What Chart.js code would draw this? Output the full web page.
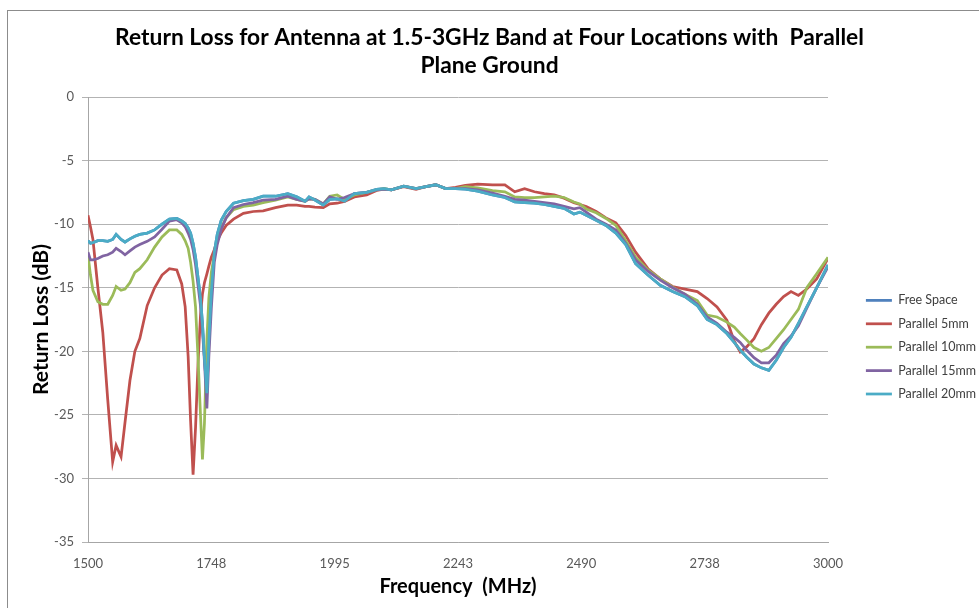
<!DOCTYPE html>
<html>
<head>
<meta charset="utf-8">
<title>Return Loss</title>
<script src="https://cdn.jsdelivr.net/npm/chart.js@4/dist/chart.umd.min.js"></script>
<style>
  body { margin: 0; background: #fff; }
  canvas { display: block; }
</style>
</head>
<body>
<canvas id="myReturnLossChart" width="979" height="608"></canvas>
<script>
// Frequency (MHz) sample points
const freq = [1500,1505,1510,1520,1530,1540,1550,1557,1567,1575,
  1585,1595,1605,1620,1635,1650,1665,1680,1690,1697,
  1703,1708,1713,1718,1723,1728,1732,1736,1741,1745,
  1750,1756,1762,1770,1780,1795,1815,1835,1855,1880,
  1905,1923,1940,1948,1960,1977,1990,2005,2020,2040,
  2065,2085,2100,2115,2140,2165,2185,2205,2225,2245,
  2265,2290,2320,2345,2365,2385,2405,2425,2445,2465,
  2485,2497,2510,2530,2550,2570,2590,2610,2635,2660,
  2685,2710,2735,2755,2775,2795,2810,2822,2835,2850,
  2865,2880,2895,2910,2925,2940,2957,2977,3000];

// x tick labels as printed on the original axis
const xTickLabels = ["1500", "1748", "1995", "2243", "2490", "2738", "3000"];

// Return loss (dB)
const freeSpace = [-11.3,-11.5,-11.45,-11.3,-11.3,-11.35,-11.2,-10.8,-11.2,-11.4,
  -11.15,-10.95,-10.8,-10.7,-10.45,-10.0,-9.6,-9.55,-9.75,-9.95,
  -10.3,-10.7,-11.5,-12.6,-14.2,-15.8,-17.8,-20.5,-23.3,-19.1,
  -15.4,-12.2,-10.8,-9.7,-9.0,-8.35,-8.15,-8.05,-7.8,-7.8,
  -7.6,-7.85,-8.2,-7.85,-8.1,-8.5,-8.05,-8.0,-8.2,-7.6,
  -7.5,-7.26,-7.2,-7.3,-7.0,-7.2,-7.05,-6.9,-7.2,-7.2,
  -7.25,-7.4,-7.7,-7.9,-8.25,-8.3,-8.35,-8.45,-8.6,-8.75,
  -9.2,-9.05,-9.3,-9.7,-10.1,-10.7,-11.6,-13.1,-14.0,-14.8,
  -15.3,-15.7,-16.4,-17.5,-17.9,-18.6,-19.3,-19.9,-20.45,-21.0,
  -21.3,-21.5,-20.7,-19.7,-18.9,-17.8,-16.5,-15.0,-13.2];

const parallel5 = [-9.3,-10.2,-11.2,-15.0,-18.5,-23.8,-28.7,-27.4,-28.3,-25.6,
  -22.3,-20.0,-19.0,-16.4,-15.0,-14.0,-13.5,-13.6,-14.7,-16.5,
  -20.4,-25.5,-29.7,-26.0,-21.0,-17.2,-15.5,-14.6,-13.9,-13.3,
  -12.6,-12.0,-11.3,-10.7,-10.1,-9.6,-9.15,-9.0,-8.95,-8.7,
  -8.5,-8.5,-8.6,-8.6,-8.65,-8.7,-8.4,-8.35,-8.2,-7.85,
  -7.7,-7.35,-7.25,-7.3,-7.05,-7.25,-7.05,-6.9,-7.2,-7.1,
  -6.95,-6.85,-6.9,-6.9,-7.45,-7.2,-7.45,-7.6,-7.7,-7.95,
  -8.3,-8.45,-8.6,-9.0,-9.5,-9.9,-10.9,-12.2,-13.5,-14.3,
  -14.9,-15.1,-15.3,-15.85,-16.5,-17.55,-19.2,-20.05,-19.65,-19.0,
  -17.9,-17.0,-16.3,-15.7,-15.3,-15.6,-15.1,-14.3,-12.7];

const parallel10 = [-12.4,-14.0,-15.2,-16.1,-16.3,-16.3,-15.6,-14.9,-15.2,-15.1,
  -14.6,-13.8,-13.5,-12.8,-11.8,-11.0,-10.45,-10.45,-10.8,-11.3,
  -11.9,-13.0,-14.5,-16.5,-20.5,-25.0,-28.5,-25.7,-19.1,-15.8,
  -13.8,-12.4,-11.3,-10.3,-9.5,-8.85,-8.6,-8.5,-8.3,-8.1,
  -7.85,-8.05,-8.2,-8.0,-8.05,-8.4,-7.8,-7.7,-8.05,-7.7,
  -7.5,-7.3,-7.2,-7.3,-7.0,-7.2,-7.05,-6.9,-7.2,-7.2,
  -7.05,-7.15,-7.35,-7.45,-7.85,-7.9,-7.9,-7.85,-7.8,-7.9,
  -8.25,-8.4,-8.8,-9.1,-9.55,-10.1,-11.3,-12.6,-13.6,-14.3,
  -14.95,-15.5,-16.0,-17.15,-17.3,-17.7,-18.1,-18.6,-19.1,-19.7,
  -20.0,-19.7,-19.0,-18.3,-17.5,-16.7,-15.0,-13.9,-12.6];

const parallel15 = [-12.2,-12.8,-12.8,-12.7,-12.5,-12.4,-12.2,-11.9,-12.15,-12.4,
  -12.1,-11.8,-11.6,-11.35,-11.0,-10.4,-9.75,-9.65,-9.9,-10.2,
  -10.7,-11.2,-12.0,-13.2,-14.8,-16.4,-18.3,-20.8,-24.5,-20.4,
  -16.6,-13.0,-11.6,-10.4,-9.5,-8.7,-8.45,-8.3,-8.1,-8.05,
  -7.8,-8.05,-8.2,-8.0,-8.05,-8.4,-7.85,-8.05,-7.9,-7.6,
  -7.5,-7.3,-7.25,-7.3,-7.0,-7.2,-7.05,-6.9,-7.2,-7.2,
  -7.2,-7.3,-7.55,-7.8,-8.05,-8.1,-8.2,-8.3,-8.4,-8.6,
  -8.8,-8.7,-9.05,-9.6,-10.0,-10.45,-11.5,-12.8,-13.7,-14.4,
  -15.0,-15.5,-16.3,-17.3,-17.8,-18.5,-18.9,-19.3,-19.9,-20.5,
  -20.9,-20.9,-20.3,-19.4,-18.8,-18.0,-16.6,-15.0,-13.35];

const parallel20 = [-11.3,-11.5,-11.45,-11.3,-11.3,-11.35,-11.2,-10.8,-11.2,-11.4,
  -11.15,-10.95,-10.8,-10.7,-10.45,-10.0,-9.6,-9.55,-9.75,-9.95,
  -10.3,-10.7,-11.5,-12.6,-14.2,-15.8,-17.8,-20.5,-23.3,-19.1,
  -15.4,-12.2,-10.8,-9.7,-9.0,-8.35,-8.15,-8.05,-7.8,-7.8,
  -7.6,-7.85,-8.2,-7.85,-8.1,-8.5,-8.05,-8.0,-8.2,-7.6,
  -7.5,-7.26,-7.2,-7.3,-7.0,-7.2,-7.05,-6.9,-7.2,-7.2,
  -7.25,-7.4,-7.7,-7.9,-8.25,-8.3,-8.35,-8.45,-8.6,-8.75,
  -9.2,-9.05,-9.3,-9.7,-10.1,-10.7,-11.6,-13.1,-14.0,-14.8,
  -15.3,-15.7,-16.4,-17.5,-17.9,-18.6,-19.3,-19.9,-20.45,-21.0,
  -21.3,-21.5,-20.7,-19.7,-18.9,-17.8,-16.5,-15.0,-13.2];

const seriesNames = ["Free Space", "Parallel 5mm", "Parallel 10mm", "Parallel 15mm", "Parallel 20mm"];
const seriesValues = [freeSpace, parallel5, parallel10, parallel15, parallel20];
const seriesColors = ["#4F81BD", "#C0504D", "#9BBB59", "#8064A2", "#4BACC6"];

Chart.defaults.font.family = "Lato, 'Open Sans', sans-serif";

// white page + thin grey frame like the Excel chart area
const chartFrame = {
  id: "chartFrame",
  beforeDraw(chart) {
    const ctx = chart.ctx;
    ctx.save();
    ctx.fillStyle = "#ffffff";
    ctx.fillRect(0, 0, chart.width, chart.height);
    ctx.strokeStyle = "#8c8c8c";
    ctx.lineWidth = 1;
    ctx.strokeRect(7.5, 10.5, chart.width + 20, chart.height + 20);
    ctx.restore();
  },
};

const ctx = document.getElementById("myReturnLossChart");

new Chart(ctx, {
  type: "line",
  data: {
    datasets: seriesNames.map((name, i) => ({
      label: name,
      data: freq.map((f, k) => ({ x: f, y: seriesValues[i][k] })),
      borderColor: seriesColors[i],
      backgroundColor: seriesColors[i],
      borderWidth: 2.75,
      pointRadius: 0,
      pointStyle: "line",
      tension: 0,
      order: seriesNames.length - i,
    })),
  },
  options: {
    responsive: false,
    animation: false,
    layout: { padding: 0 },
    scales: {
      x: {
        type: "linear",
        min: 1500,
        max: 3000,
        afterBuildTicks: (axis) => {
          axis.ticks = xTickLabels.map((_, i) => ({ value: 1500 + i * 250 }));
        },
        afterFit: (scale) => {
          scale.height = 66;
        },
        ticks: {
          autoSkip: false,
          maxRotation: 0,
          padding: 6,
          color: "#595959",
          font: { size: 13 },
          callback: (value, index) => xTickLabels[index],
        },
        grid: { display: false },
        border: { display: true, color: "#a6a6a6" },
        title: {
          display: true,
          text: "Frequency  (MHz)",
          color: "#000",
          font: { size: 20, weight: "bold" },
          padding: { top: 0, bottom: 9 },
        },
      },
      y: {
        min: -35,
        max: 0,
        afterFit: (scale) => {
          scale.width = 88;
        },
        ticks: {
          stepSize: 5,
          padding: 8,
          color: "#595959",
          font: { size: 13 },
        },
        grid: { color: "#b3b3b3", tickLength: 6 },
        border: { display: true, color: "#a6a6a6" },
        title: {
          display: true,
          text: "Return Loss (dB)",
          color: "#000",
          font: { size: 21, weight: "bold" },
          padding: { top: 29, bottom: 0 },
        },
      },
      spacer: {
        position: "right",
        display: true,
        afterFit: (scale) => {
          scale.width = 27;
        },
        ticks: { display: false },
        grid: { display: false },
        border: { display: false },
      },
    },
    plugins: {
      title: {
        display: true,
        text: ["Return Loss for Antenna at 1.5-3GHz Band at Four Locations with  Parallel", "Plane Ground"],
        color: "#000",
        font: { size: 22.8, weight: "bold", lineHeight: 1.23 },
        padding: { top: 24, bottom: 17 },
      },
      legend: {
        position: "right",
        maxWidth: 124,
        title: { display: true, text: "", padding: { top: 72, bottom: 0 } },
        labels: {
          usePointStyle: true,
          pointStyleWidth: 26,
          padding: 10.9,
          color: "#404040",
          font: { size: 12.5 },
          sort: (a, b) => a.datasetIndex - b.datasetIndex,
        },
      },
      tooltip: { enabled: false },
    },
  },
  plugins: [chartFrame],
});
</script>
</body>
</html>
